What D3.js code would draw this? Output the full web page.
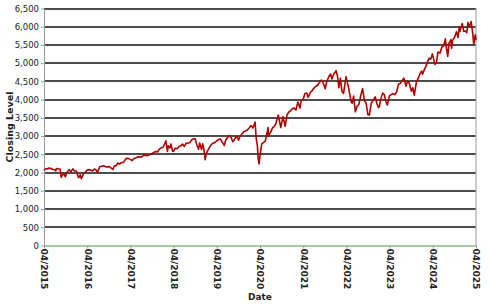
<!DOCTYPE html>
<html><head><meta charset="utf-8">
<script src="https://cdn.jsdelivr.net/npm/d3@7"></script>
<style>body{margin:0;background:#fff}svg{display:block}</style>
</head><body><svg id="c" width="490" height="307"></svg>
<script>
const dates = [
"2015-04-01","2015-04-15","2015-05-01","2015-05-15","2015-06-01","2015-06-15","2015-07-01","2015-07-08","2015-07-15","2015-08-01","2015-08-15","2015-08-25","2015-09-01","2015-09-15","2015-09-29","2015-10-15","2015-11-01","2015-11-15","2015-12-01","2015-12-15","2015-12-31",
"2016-01-15","2016-01-20","2016-02-01","2016-02-11","2016-03-01","2016-03-15","2016-04-01","2016-04-15","2016-05-01","2016-05-15","2016-06-01","2016-06-15","2016-06-27","2016-07-15","2016-08-01","2016-08-15","2016-09-01","2016-09-15","2016-10-01","2016-10-15","2016-11-04","2016-11-15","2016-12-01","2016-12-15",
"2017-01-01","2017-01-15","2017-02-01","2017-02-15","2017-03-01","2017-03-15","2017-04-01","2017-04-15","2017-05-01","2017-05-15","2017-06-01","2017-06-15","2017-07-01","2017-07-15","2017-08-01","2017-08-15","2017-09-01","2017-09-15","2017-10-01","2017-10-15","2017-11-01","2017-11-15","2017-12-01","2017-12-15",
"2018-01-01","2018-01-15","2018-01-26","2018-02-08","2018-02-15","2018-03-01","2018-03-09","2018-03-23","2018-04-01","2018-04-15","2018-05-01","2018-05-15","2018-06-01","2018-06-15","2018-07-01","2018-07-15","2018-08-01","2018-08-15","2018-09-01","2018-09-20","2018-10-01","2018-10-15","2018-10-29","2018-11-07","2018-11-23","2018-12-03","2018-12-15","2018-12-24",
"2019-01-01","2019-01-15","2019-02-01","2019-02-15","2019-03-01","2019-03-15","2019-04-01","2019-04-15","2019-05-01","2019-05-15","2019-06-03","2019-06-15","2019-07-01","2019-07-15","2019-08-01","2019-08-15","2019-09-01","2019-09-15","2019-10-02","2019-10-15","2019-11-01","2019-11-15","2019-12-01","2019-12-15",
"2020-01-01","2020-01-15","2020-02-01","2020-02-19","2020-02-28","2020-03-09","2020-03-16","2020-03-23","2020-04-01","2020-04-15","2020-05-01","2020-05-15","2020-06-08","2020-06-11","2020-07-01","2020-07-15","2020-08-01","2020-08-15","2020-09-02","2020-09-23","2020-10-12","2020-10-30","2020-11-15","2020-12-01","2020-12-15",
"2021-01-01","2021-01-15","2021-01-29","2021-02-15","2021-03-04","2021-03-15","2021-04-01","2021-04-15","2021-05-01","2021-05-12","2021-06-01","2021-06-15","2021-07-01","2021-07-15","2021-08-01","2021-08-15","2021-09-02","2021-09-15","2021-10-04","2021-10-15","2021-11-01","2021-11-18","2021-11-30","2021-12-15","2021-12-31",
"2022-01-03","2022-01-15","2022-01-27","2022-02-09","2022-02-23","2022-03-08","2022-03-29","2022-04-15","2022-05-01","2022-05-12","2022-05-20","2022-06-01","2022-06-16","2022-07-01","2022-07-15","2022-08-01","2022-08-16","2022-09-01","2022-09-15","2022-09-30","2022-10-12","2022-10-28","2022-11-15","2022-12-01","2022-12-15","2022-12-28",
"2023-01-05","2023-01-15","2023-02-02","2023-02-15","2023-03-01","2023-03-13","2023-04-01","2023-04-15","2023-05-01","2023-05-15","2023-06-01","2023-06-15","2023-07-01","2023-07-31","2023-08-18","2023-09-01","2023-09-15","2023-10-03","2023-10-15","2023-10-27","2023-11-15","2023-12-01","2023-12-15","2023-12-28",
"2024-01-05","2024-01-15","2024-02-01","2024-02-15","2024-03-01","2024-03-15","2024-03-28","2024-04-19","2024-05-01","2024-05-15","2024-06-01","2024-06-15","2024-07-01","2024-07-16","2024-07-25","2024-08-05","2024-08-15","2024-09-01","2024-09-06","2024-09-15","2024-10-01","2024-10-18","2024-10-31","2024-11-11","2024-11-15","2024-12-06","2024-12-18","2024-12-31",
"2025-01-13","2025-01-23","2025-02-03","2025-02-19","2025-03-03","2025-03-13","2025-03-25","2025-04-01"
];
const closes = [
2060,2106,2108,2122,2111,2084,2077,2047,2108,2104,2092,1868,1914,1978,1884,2023,2079,2023,2102,2043,2044,
1880,1859,1940,1829,1978,2015,2073,2081,2065,2047,2099,2071,2000,2162,2170,2190,2170,2147,2168,2133,2085,2180,2191,2262,
2238,2275,2279,2349,2395,2385,2362,2329,2388,2402,2430,2432,2423,2459,2476,2464,2476,2500,2519,2553,2579,2564,2642,2675,
2695,2786,2873,2581,2732,2677,2786,2588,2582,2670,2654,2711,2734,2780,2718,2801,2813,2818,2901,2930,2924,2750,2641,2813,2632,2790,2600,2351,
2510,2610,2706,2775,2803,2822,2867,2905,2924,2850,2744,2887,2964,3014,2953,2847,2926,3007,2887,2995,3066,3120,3141,3168,
3230,3289,3225,3386,2954,2746,2386,2237,2470,2783,2830,2863,3232,3002,3115,3226,3271,3372,3580,3237,3534,3270,3585,3662,3694,
3756,3768,3714,3934,3768,3968,4020,4170,4181,4063,4202,4246,4320,4360,4395,4468,4537,4480,4300,4471,4614,4704,4567,4709,4766,
4796,4662,4326,4587,4225,4170,4631,4392,4132,3930,3901,4101,3667,3825,3863,4118,4305,3967,3901,3586,3577,3901,3991,4076,3895,3783,
3808,3999,4179,4147,3951,3855,4109,4137,4167,4136,4221,4425,4450,4589,4370,4515,4450,4229,4327,4117,4502,4594,4719,4783,
4697,4783,4906,5029,5137,5117,5254,4967,5018,5308,5277,5431,5475,5667,5399,5186,5543,5648,5408,5626,5708,5864,5705,6001,5870,6090,5872,5882,
5836,6119,5994,6144,5849,5521,5777,5633
];
const yTicks = [0,500,1000,1500,2000,2500,3000,3500,4000,4500,5000,5500,6000,6500];
const xTickLabels = ["04/2015","04/2016","04/2017","04/2018","04/2019","04/2020","04/2021","04/2022","04/2023","04/2024","04/2025"];

const parse = d3.timeParse("%Y-%m-%d");
const tparse = d3.timeParse("%m/%Y");
const data = dates.map((d,i)=>({date:parse(d), v:closes[i]}));
const L=44, R=476, T=8.5, B=245.5;
const svg = d3.select("#c");
const x = d3.scaleTime().domain([tparse(xTickLabels[0]), tparse(xTickLabels[xTickLabels.length-1])]).range([L,R]);
const y = d3.scaleLinear().domain([0,6500]).range([B,T]);

// gridlines
svg.append("g").selectAll("line").data(yTicks.filter(d=>d>0)).join("line")
  .attr("x1",L).attr("x2",R).attr("y1",d=>Math.round(y(d))).attr("y2",d=>Math.round(y(d)))
  .attr("stroke","#111").attr("stroke-width",1.5);

// y axis
const ya = svg.append("g").attr("transform",`translate(${L},0)`)
  .call(d3.axisLeft(y).tickValues(yTicks).tickFormat(d3.format(",")).tickSize(3).tickSizeOuter(0));
ya.select(".domain").attr("stroke","#999");
ya.selectAll(".tick line").attr("stroke","#999");
ya.selectAll("text").attr("font-family","DejaVu Sans").attr("font-size","8.5px").attr("fill","#222").attr("dx","1");

// right border
svg.append("line").attr("x1",R).attr("x2",R).attr("y1",T).attr("y2",B).attr("stroke","#aaa").attr("stroke-width",1.2);

// x axis
const xa = svg.append("g").attr("transform",`translate(0,${B})`)
  .call(d3.axisBottom(x).tickValues(xTickLabels.map(tparse)).tickFormat(d3.timeFormat("%m/%Y")).tickSize(3).tickSizeOuter(0));
xa.select(".domain").attr("stroke","#4a9a3a").attr("stroke-width",1.2);
xa.selectAll(".tick line").attr("stroke","#999");
xa.selectAll("text").attr("font-family","DejaVu Sans").attr("font-weight","bold").attr("font-size","9px").attr("fill","#222")
  .attr("transform","rotate(90)").attr("text-anchor","start").attr("x",3).attr("y",0).attr("dy","0.35em");

// line
svg.append("path").datum(data)
  .attr("d", d3.line().x(d=>x(d.date)).y(d=>y(d.v)))
  .attr("fill","none").attr("stroke","#b00000").attr("stroke-width",1.6).attr("stroke-linejoin","round");

// axis titles
svg.append("text").attr("x",(L+R)/2).attr("y",300).attr("text-anchor","middle")
  .attr("font-family","DejaVu Sans").attr("font-weight","bold").attr("font-size","9px").attr("fill","#222").text("Date");
svg.append("text").attr("transform",`translate(13,${(T+B)/2}) rotate(-90)`).attr("text-anchor","middle")
  .attr("font-family","DejaVu Sans").attr("font-weight","bold").attr("font-size","9.5px").attr("fill","#222").text("Closing Level");
</script></body></html>
